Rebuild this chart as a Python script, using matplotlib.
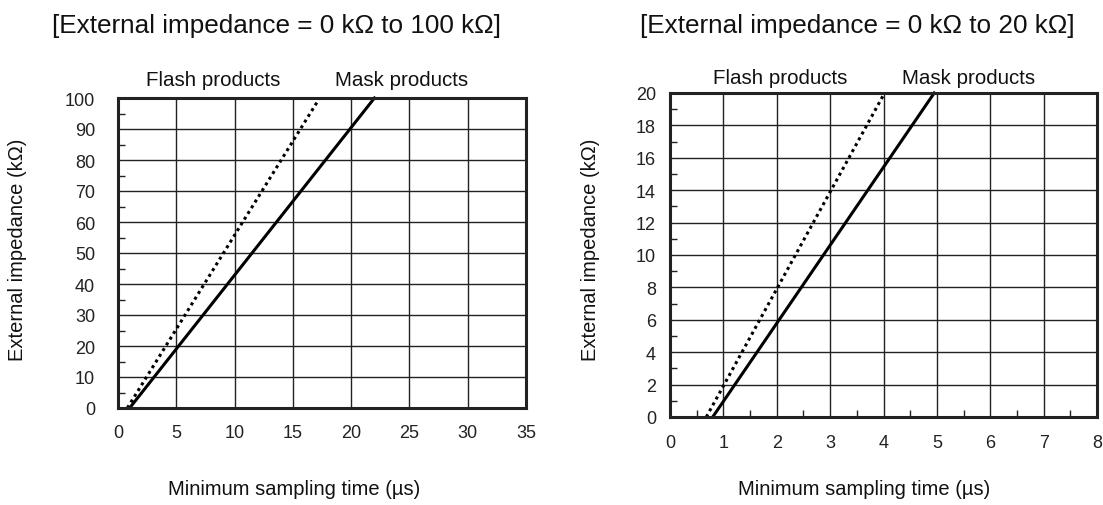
import matplotlib
matplotlib.use("Agg")
import matplotlib.pyplot as plt
from matplotlib.ticker import MultipleLocator

plt.rcParams['font.family'] = ['Liberation Sans', 'DejaVu Sans']

# left chart: 0 to 100 kOhm
left_x_ticks = [0, 5, 10, 15, 20, 25, 30, 35]
left_y_ticks = [0, 10, 20, 30, 40, 50, 60, 70, 80, 90, 100]
left_flash_t = [0.8, 17.3]
left_flash_r = [0, 100]
left_mask_t = [1.0, 22.0]
left_mask_r = [0, 100]

# right chart: 0 to 20 kOhm
right_x_ticks = [0, 1, 2, 3, 4, 5, 6, 7, 8]
right_y_ticks = [0, 2, 4, 6, 8, 10, 12, 14, 16, 18, 20]
right_flash_t = [0.68, 4.02]
right_flash_r = [0, 20]
right_mask_t = [0.8, 4.95]
right_mask_r = [0, 20]

W, H = 1103, 506
fig = plt.figure(figsize=(W / 100, H / 100), dpi=100)

def px(x0, y0, x1, y1):
    return [x0 / W, 1 - y1 / H, (x1 - x0) / W, (y1 - y0) / H]

def label(x, y, s, size, rot=0):
    fig.text(x / W, 1 - y / H, s, ha='center', va='center', fontsize=size,
             rotation=rot, color='#111111')

def setup(ax, xt, yt, xminor, yminor, xpad, ypad):
    ax.set_xlim(xt[0], xt[-1])
    ax.set_ylim(yt[0], yt[-1])
    ax.set_xticks(xt)
    ax.set_yticks(yt)
    ax.grid(True, color='#222222', lw=1.0)
    ax.set_axisbelow(True)
    for s in ax.spines.values():
        s.set_linewidth(2.2)
        s.set_color('#222222')
    ax.tick_params(which='major', length=0, labelsize=13, colors='#222222')
    ax.tick_params(axis='x', pad=xpad)
    ax.tick_params(axis='y', pad=ypad)
    if xminor:
        ax.xaxis.set_minor_locator(MultipleLocator(xminor))
    if yminor:
        ax.yaxis.set_minor_locator(MultipleLocator(yminor))
    ax.tick_params(which='minor', direction='in', length=5, width=1, color='#222222')

ax1 = fig.add_axes(px(118, 99, 526, 409))
setup(ax1, left_x_ticks, left_y_ticks, None, 5, 11.5, 16.5)
ax1.plot(left_flash_t, left_flash_r, color='black', lw=2.2, ls=(0, (1, 1.2)), clip_on=False)
ax1.plot(left_mask_t, left_mask_r, color='black', lw=2.2, clip_on=False)
label(276, 26, '[External impedance = 0 k\u03a9 to 100 k\u03a9]', 18.8)
label(213, 80, 'Flash products', 14.8)
label(402, 80, 'Mask products', 14.8)
label(18, 250, 'External impedance (k\u03a9)', 14.5, rot=90)
label(294, 490, 'Minimum sampling time (\u00b5s)', 14.5)

ax2 = fig.add_axes(px(670, 94, 1097, 418))
setup(ax2, right_x_ticks, right_y_ticks, 0.5, 1, 12, 10)
ax2.plot(right_flash_t, right_flash_r, color='black', lw=2.2, ls=(0, (1, 1.2)), clip_on=False)
ax2.plot(right_mask_t, right_mask_r, color='black', lw=2.2, clip_on=False)
label(857, 26, '[External impedance = 0 k\u03a9 to 20 k\u03a9]', 18.8)
label(780, 78, 'Flash products', 14.8)
label(969, 78, 'Mask products', 14.8)
label(590, 250, 'External impedance (k\u03a9)', 14.5, rot=90)
label(864, 490, 'Minimum sampling time (\u00b5s)', 14.5)

fig.savefig('out.png', dpi=100)
